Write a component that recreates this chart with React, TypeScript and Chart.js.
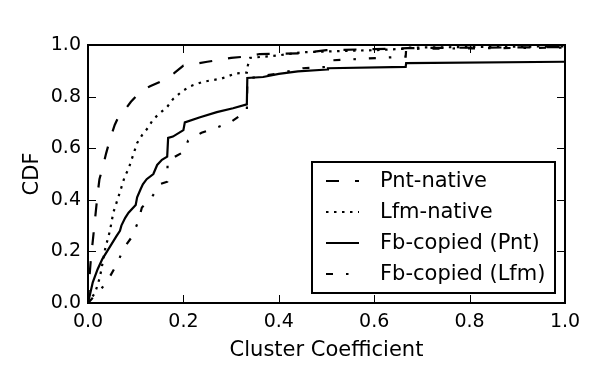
import React, { useEffect, useRef } from "react";
import { Chart, registerables } from "chart.js";

Chart.register(...registerables);

const seriesLabels = ["Pnt-native", "Lfm-native", "Fb-copied (Pnt)", "Fb-copied (Lfm)"];

const pntNativeX = [0, 0.003, 0.006, 0.01, 0.015, 0.02, 0.024, 0.03, 0.038, 0.047, 0.056, 0.066, 0.078, 0.09, 0.11, 0.13, 0.16, 0.18, 0.2, 0.25, 0.3, 0.33, 0.36, 0.45, 0.5, 0.6, 0.67, 1.0];
const pntNativeY = [0, 0.1, 0.17, 0.24, 0.33, 0.42, 0.48, 0.52, 0.58, 0.64, 0.69, 0.73, 0.75, 0.78, 0.82, 0.84, 0.865, 0.89, 0.92, 0.935, 0.95, 0.955, 0.965, 0.968, 0.98, 0.984, 0.988, 0.992];

const lfmNativeX = [0, 0.015, 0.025, 0.036, 0.046, 0.053, 0.06, 0.067, 0.077, 0.085, 0.094, 0.103, 0.113, 0.126, 0.136, 0.147, 0.166, 0.178, 0.197, 0.214, 0.24, 0.28, 0.31, 0.333, 0.335, 0.34, 0.4, 0.45, 0.5, 0.6, 0.66, 0.67, 1.0];
const lfmNativeY = [0, 0.04, 0.1, 0.21, 0.28, 0.35, 0.39, 0.43, 0.49, 0.52, 0.57, 0.62, 0.65, 0.68, 0.71, 0.73, 0.76, 0.79, 0.82, 0.84, 0.857, 0.87, 0.89, 0.893, 0.92, 0.95, 0.96, 0.972, 0.975, 0.98, 0.985, 0.99, 0.995];

const fbPntX = [0, 0.005, 0.01, 0.02, 0.03, 0.04, 0.05, 0.06, 0.067, 0.07, 0.078, 0.085, 0.1, 0.103, 0.11, 0.115, 0.123, 0.137, 0.145, 0.155, 0.166, 0.168, 0.178, 0.2, 0.203, 0.235, 0.27, 0.304, 0.333, 0.334, 0.367, 0.4, 0.44, 0.502, 0.503, 0.666, 0.667, 1.0];
const fbPntY = [0, 0.04, 0.08, 0.13, 0.17, 0.2, 0.23, 0.26, 0.28, 0.3, 0.33, 0.35, 0.38, 0.41, 0.44, 0.46, 0.48, 0.5, 0.535, 0.555, 0.567, 0.64, 0.645, 0.67, 0.7, 0.72, 0.74, 0.755, 0.77, 0.872, 0.876, 0.888, 0.898, 0.905, 0.91, 0.915, 0.93, 0.935];

const fbLfmX = [0, 0.005, 0.015, 0.03, 0.045, 0.062, 0.074, 0.092, 0.104, 0.113, 0.134, 0.15, 0.166, 0.167, 0.185, 0.2, 0.21, 0.238, 0.27, 0.298, 0.322, 0.333, 0.334, 0.4, 0.45, 0.5, 0.505, 0.57, 0.61, 0.666, 0.667, 1.0];
const fbLfmY = [0, 0.01, 0.03, 0.06, 0.1, 0.155, 0.21, 0.256, 0.31, 0.37, 0.41, 0.46, 0.47, 0.55, 0.57, 0.585, 0.63, 0.66, 0.68, 0.7, 0.73, 0.74, 0.87, 0.89, 0.91, 0.915, 0.94, 0.946, 0.95, 0.955, 0.985, 0.99];

const tickValues = [0, 0.2, 0.4, 0.6, 0.8, 1.0];

const xTitle = "Cluster Coefficient";
const yTitle = "CDF";

const FONT = "'DejaVu Sans', sans-serif";

function toPoints(xs: number[], ys: number[]) {
  return xs.map((x, i) => ({ x, y: ys[i] }));
}

const framePlugin = {
  id: "frameTicks",
  afterDatasetsDraw(chart: any) {
    const { ctx, chartArea } = chart;
    const { left, right, top, bottom } = chartArea;
    const xs = chart.scales.x;
    const ys = chart.scales.y;
    ctx.save();
    ctx.strokeStyle = "#000";
    ctx.lineWidth = 1;
    const len = 8;
    tickValues.forEach((v) => {
      const px = Math.round(xs.getPixelForValue(v)) + 0.5;
      ctx.beginPath();
      ctx.moveTo(px, bottom);
      ctx.lineTo(px, bottom - len);
      ctx.moveTo(px, top);
      ctx.lineTo(px, top + len);
      ctx.stroke();
      const py = Math.round(ys.getPixelForValue(v)) + 0.5;
      ctx.beginPath();
      ctx.moveTo(left, py);
      ctx.lineTo(left + len, py);
      ctx.moveTo(right, py);
      ctx.lineTo(right - len, py);
      ctx.stroke();
    });
    ctx.lineWidth = 2;
    ctx.strokeRect(left, top, right - left, bottom - top);
    ctx.restore();
  },
};

const legendPlugin = {
  id: "boxLegend",
  afterDraw(chart: any) {
    const { ctx, chartArea } = chart;
    const boxRight = chartArea.right - 10;
    const boxBottom = chartArea.bottom - 10;
    const boxW = 243;
    const boxH = 131;
    const bx = boxRight - boxW;
    const by = boxBottom - boxH;
    ctx.save();
    ctx.fillStyle = "#fff";
    ctx.fillRect(bx, by, boxW, boxH);
    ctx.strokeStyle = "#000";
    ctx.lineWidth = 2;
    ctx.strokeRect(bx, by, boxW, boxH);
    chart.data.datasets.forEach((ds: any, i: number) => {
      const cy = by + 19 + i * 31;
      ctx.save();
      ctx.strokeStyle = ds.borderColor;
      ctx.lineWidth = ds.borderWidth;
      ctx.setLineDash(ds.borderDash || []);
      ctx.lineCap = "butt";
      ctx.beginPath();
      ctx.moveTo(bx + 14, cy);
      ctx.lineTo(bx + 47, cy);
      ctx.stroke();
      ctx.restore();
      ctx.fillStyle = "#000";
      ctx.font = `21px ${FONT}`;
      ctx.textAlign = "left";
      ctx.textBaseline = "middle";
      ctx.fillText(ds.label, bx + 68, cy + 1);
    });
    ctx.restore();
  },
};

export default function App() {
  const canvasRef = useRef<HTMLCanvasElement | null>(null);

  useEffect(() => {
    document.body.style.margin = "0";
    const canvas = canvasRef.current;
    if (!canvas) return;
    const common = { borderColor: "#000", borderWidth: 2.2, pointRadius: 0, tension: 0, fill: false };
    const chart = new Chart(canvas, {
      type: "line",
      data: {
        datasets: [
          { ...common, label: seriesLabels[0], data: toPoints(pntNativeX, pntNativeY), borderDash: [13, 16] },
          { ...common, label: seriesLabels[1], data: toPoints(lfmNativeX, lfmNativeY), borderDash: [2.5, 5.5] },
          { ...common, label: seriesLabels[2], data: toPoints(fbPntX, fbPntY), borderDash: [] },
          { ...common, label: seriesLabels[3], data: toPoints(fbLfmX, fbLfmY), borderDash: [7, 13, 2.5, 13] },
        ],
      },
      options: {
        animation: false,
        responsive: false,
        devicePixelRatio: 1,
        layout: { padding: { left: 0, right: 33, top: 45, bottom: 0 } },
        plugins: { legend: { display: false }, tooltip: { enabled: false } },
        scales: {
          x: {
            type: "linear",
            min: 0,
            max: 1,
            afterFit: (s: any) => { s.height = 67; },
            grid: { display: false, drawTicks: false },
            border: { display: false },
            ticks: {
              stepSize: 0.2,
              padding: 8,
              color: "#000",
              font: { family: FONT, size: 19 },
              maxRotation: 0,
              callback: (v: any) => Number(v).toFixed(1),
            },
            title: { display: true, text: xTitle, color: "#000", font: { family: FONT, size: 21 }, padding: { top: 0, bottom: 7 } },
          },
          y: {
            type: "linear",
            min: 0,
            max: 1,
            afterFit: (s: any) => { s.width = 88; },
            grid: { display: false, drawTicks: false },
            border: { display: false },
            ticks: {
              stepSize: 0.2,
              padding: 7,
              color: "#000",
              font: { family: FONT, size: 19 },
              callback: (v: any) => Number(v).toFixed(1),
            },
            title: { display: true, text: yTitle, color: "#000", font: { family: FONT, size: 21 }, padding: { top: 20, bottom: 0 } },
          },
        },
      },
      plugins: [framePlugin, legendPlugin],
    });
    return () => chart.destroy();
  }, []);

  return (
    <div style={{ position: "fixed", left: 0, top: 0, width: 598, height: 370, background: "#fff" }}>
      <canvas ref={canvasRef} width={598} height={370} />
    </div>
  );
}
